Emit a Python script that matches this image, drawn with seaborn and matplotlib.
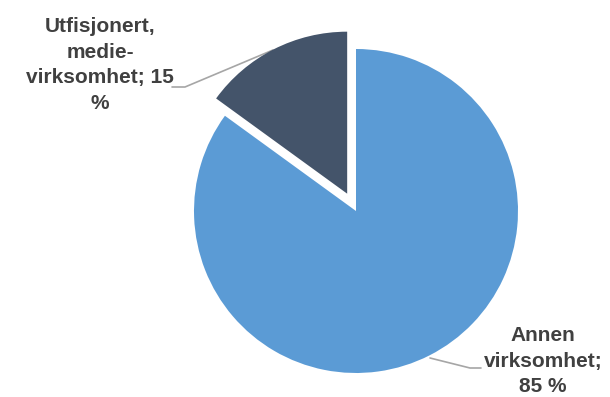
import matplotlib
matplotlib.use("Agg")
import matplotlib.pyplot as plt
import seaborn as sns

sns.set_theme(style="white")
plt.rcParams['font.family'] = ['Liberation Sans', 'DejaVu Sans']

categories = ["Annen virksomhet", "Utfisjonert, medievirksomhet"]
values = [85, 15]
label_texts = ["Annen\nvirksomhet;\n85 %", "Utfisjonert,\nmedie-\nvirksomhet; 15\n%"]
colors = ["#5b9bd5", "#44546a"]

fig = plt.figure(figsize=(6.10, 3.97), dpi=100)
ax = fig.add_axes([0, 0, 1, 1])

cx, cy, r = 356, 186, 162
ax.pie(values, colors=colors, startangle=90, counterclock=False,
       center=(cx, cy), radius=r, explode=[0, 0.12 * r],
       wedgeprops=dict(linewidth=0, zorder=3), frame=True)
ax.set_xlim(0, 610)
ax.set_ylim(0, 397)
ax.set_aspect('equal')
ax.axis('off')

tc = "#404040"
lc = "#a6a6a6"
# leader lines
ax.plot([430, 470, 481], [397 - 358, 397 - 368, 397 - 368], color=lc, lw=1.2, zorder=1)
ax.plot([273, 185, 172], [397 - 50, 397 - 87, 397 - 87], color=lc, lw=1.2, zorder=1)

ax.text(543, 397 - 361, label_texts[0], ha='center', va='center',
        fontsize=15, color=tc, linespacing=1.45, fontweight='bold')
ax.text(100, 397 - 65, label_texts[1], ha='center', va='center',
        fontsize=15, color=tc, linespacing=1.45, fontweight='bold')

fig.savefig("out.png", dpi=100)
